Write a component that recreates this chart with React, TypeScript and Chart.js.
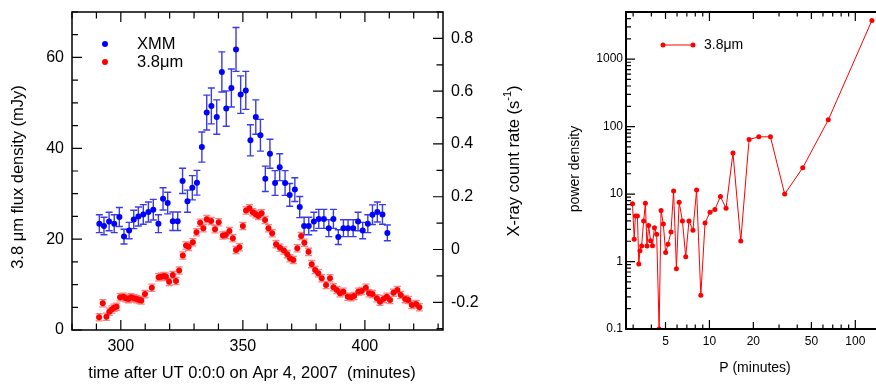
import React, { useEffect, useRef } from "react";
import { Chart, registerables } from "chart.js";
Chart.register(...registerables);

const FONT = "'Liberation Sans', Arial, Helvetica, sans-serif";

// ---- Left panel: light curves ----
const xmmTime = [291.2, 293.1, 295.2, 297.3, 299.4, 301.3, 303.4, 305.3, 307.2, 309.2, 311.3, 313.3, 315.4, 317.3, 319.2, 321.3, 323.3, 325.3, 327.3, 329.3, 331.2, 333.2, 335.2, 337.1, 339.3, 341.4, 343.2, 345.3, 347.2, 349.1, 351.2, 353.1, 355.3, 357.2, 359.2, 361.1, 363.2, 365.1, 367.3, 369.2, 371.3, 373.3, 375.1, 377.0, 379.1, 381.1, 383.2, 385.2, 387.1, 389.1, 391.2, 393.1, 395.2, 397.2, 399.1, 401.2, 403.1, 405.1, 407.2, 409.2];
const xmmRate = [0.098, 0.089, 0.106, 0.098, 0.123, 0.049, 0.072, 0.114, 0.125, 0.133, 0.142, 0.151, 0.098, 0.192, 0.176, 0.107, 0.107, 0.26, 0.183, 0.234, 0.253, 0.388, 0.519, 0.544, 0.502, 0.673, 0.534, 0.612, 0.758, 0.587, 0.603, 0.414, 0.502, 0.433, 0.268, 0.363, 0.252, 0.312, 0.252, 0.207, 0.227, 0.161, 0.089, 0.089, 0.106, 0.116, 0.116, 0.081, 0.116, 0.047, 0.081, 0.081, 0.081, 0.106, 0.072, 0.098, 0.132, 0.142, 0.133, 0.063];
const xmmErr = [0.034, 0.033, 0.035, 0.034, 0.036, 0.028, 0.031, 0.035, 0.036, 0.037, 0.038, 0.039, 0.034, 0.042, 0.041, 0.035, 0.035, 0.048, 0.042, 0.046, 0.047, 0.057, 0.066, 0.068, 0.065, 0.076, 0.067, 0.072, 0.083, 0.071, 0.072, 0.059, 0.065, 0.06, 0.048, 0.055, 0.047, 0.051, 0.047, 0.043, 0.045, 0.04, 0.033, 0.033, 0.035, 0.036, 0.036, 0.032, 0.036, 0.028, 0.032, 0.032, 0.032, 0.035, 0.031, 0.034, 0.037, 0.038, 0.037, 0.03];

const irTime = [291.1, 292.6, 294.1, 295.3, 296.3, 297.2, 298.3, 299.7, 301.0, 302.1, 303.1, 304.2, 305.4, 306.5, 307.6, 308.4, 309.9, 312.7, 315.5, 316.5, 317.7, 318.5, 319.8, 321.3, 322.6, 323.9, 325.4, 326.7, 327.8, 329.5, 331.0, 332.5, 333.8, 335.2, 337.0, 338.6, 340.1, 341.8, 343.0, 344.5, 345.9, 347.2, 348.6, 350.0, 351.3, 352.7, 354.1, 355.3, 356.4, 357.7, 359.1, 360.5, 362.0, 363.6, 365.2, 366.8, 368.2, 369.3, 370.7, 372.3, 373.9, 375.2, 376.9, 378.2, 379.6, 380.9, 382.3, 384.1, 385.7, 387.1, 388.5, 389.8, 391.2, 393.0, 394.3, 395.6, 397.3, 398.7, 400.4, 401.7, 403.1, 404.9, 406.2, 407.6, 409.0, 410.3, 411.7, 413.3, 414.7, 416.5, 417.8, 419.2, 421.0, 422.3];
const irFlux = [2.8, 5.9, 2.9, 4.0, 4.5, 4.9, 5.1, 7.2, 7.3, 7.0, 6.8, 7.2, 7.0, 6.8, 6.6, 6.5, 7.9, 9.3, 11.6, 11.7, 11.9, 11.7, 10.6, 12.1, 10.8, 13.1, 16.4, 18.6, 18.3, 19.3, 21.5, 23.6, 22.4, 24.4, 24.0, 22.2, 23.7, 20.8, 20.9, 21.8, 20.2, 17.6, 18.2, 22.9, 26.3, 26.8, 25.9, 25.5, 25.1, 25.7, 24.2, 22.4, 21.3, 18.9, 18.1, 17.5, 16.7, 15.8, 15.4, 18.0, 20.7, 19.2, 17.2, 14.5, 13.2, 12.5, 11.4, 9.9, 11.4, 9.4, 8.8, 8.1, 8.4, 7.3, 7.2, 7.5, 8.4, 8.6, 9.3, 8.1, 7.9, 7.0, 6.2, 6.8, 7.3, 6.6, 8.2, 8.8, 7.7, 6.8, 6.6, 5.5, 5.7, 5.0];
const irErr = 0.8;

const fluxTicks = [0, 20, 40, 60];
const rateTicks = [-0.2, 0, 0.2, 0.4, 0.6, 0.8];
const timeTicks = [300, 350, 400];

// ---- Right panel: power spectrum ----
const period = [2.97, 3.05, 3.11, 3.21, 3.28, 3.34, 3.43, 3.54, 3.64, 3.73, 3.83, 3.95, 4.07, 4.2, 4.35, 4.52, 4.66, 4.83, 5.01, 5.2, 5.45, 5.68, 5.94, 6.2, 6.53, 6.88, 7.24, 7.71, 8.17, 8.73, 9.33, 10.1, 10.9, 11.9, 13.0, 14.5, 16.4, 18.7, 21.8, 26.2, 32.8, 43.6, 65.3, 130];
const power = [7.16, 2.14, 4.75, 4.75, 0.92, 1.45, 1.7, 4.0, 7.33, 1.7, 3.41, 2.04, 1.72, 3.18, 2.54, 0.1, 5.69, 3.61, 1.36, 1.81, 2.75, 11.1, 0.785, 7.58, 4.0, 1.18, 4.0, 2.91, 11.5, 0.316, 3.74, 5.38, 5.89, 9.18, 6.18, 40.8, 2.02, 64.4, 70.6, 70.6, 10, 24.5, 126, 3750];
const periodTicks = [5, 10, 20, 50, 100];
const powerTicks = [0.1, 1, 10, 100, 1000];

const BLUE = "#0000ff";
const RED = "#ff0000";

function drawErr(ctx: any, xs: any, ys: any, t: number[], v: number[], e: (i: number) => number, color: string, cap: number, lw: number) {
  ctx.strokeStyle = color;
  ctx.lineWidth = lw;
  ctx.beginPath();
  for (let i = 0; i < t.length; i++) {
    const x = xs.getPixelForValue(t[i]);
    const y1 = ys.getPixelForValue(v[i] + e(i));
    const y2 = ys.getPixelForValue(v[i] - e(i));
    ctx.moveTo(x, y1); ctx.lineTo(x, y2);
    ctx.moveTo(x - cap, y1); ctx.lineTo(x + cap, y1);
    ctx.moveTo(x - cap, y2); ctx.lineTo(x + cap, y2);
  }
  ctx.stroke();
}

const leftDeco = {
  id: "leftDeco",
  beforeDatasetsDraw(chart: any) {
    const { ctx, chartArea: a, scales } = chart;
    ctx.save();
    ctx.beginPath();
    ctx.rect(a.left, a.top, a.right - a.left, a.bottom - a.top);
    ctx.clip();
    drawErr(ctx, scales.x, scales.y, irTime, irFlux, () => irErr, "rgba(255,40,40,0.6)", 3.5, 1.3);
    drawErr(ctx, scales.x, scales.y1, xmmTime, xmmRate, (i) => xmmErr[i], "rgba(25,25,225,0.85)", 3.5, 1.4);
    ctx.restore();
  },
  afterDraw(chart: any) {
    const { ctx, chartArea: a, scales } = chart;
    const xs = scales.x, yl = scales.y, yr = scales.y1;
    ctx.save();
    ctx.strokeStyle = "#000";
    ctx.lineWidth = 1.5;
    ctx.strokeRect(a.left, a.top, a.right - a.left, a.bottom - a.top);
    ctx.lineWidth = 1.2;
    ctx.beginPath();
    for (let v = 0; v <= 70; v += 5) {
      const y = yl.getPixelForValue(v);
      const len = v % 20 === 0 ? 10 : 6;
      ctx.moveTo(a.left, y); ctx.lineTo(a.left + len, y);
    }
    for (let i = -3; i <= 9; i++) {
      const y = yr.getPixelForValue(i / 10);
      const len = i % 2 === 0 ? 10 : 6.5;
      ctx.moveTo(a.right, y); ctx.lineTo(a.right - len, y);
    }
    for (let v = 280; v <= 432; v += 10) {
      const x = xs.getPixelForValue(v);
      const len = v % 50 === 0 ? 10 : 6.5;
      ctx.moveTo(x, a.bottom); ctx.lineTo(x, a.bottom - len);
      ctx.moveTo(x, a.top); ctx.lineTo(x, a.top + len);
    }
    ctx.stroke();

    ctx.fillStyle = "#000";
    ctx.font = `16.5px ${FONT}`;
    ctx.textAlign = "center";
    ctx.textBaseline = "middle";
    ctx.fillText("time after UT 0:0:0 on Apr 4, 2007  (minutes)", 252, 373);

    ctx.save();
    ctx.translate(18, 177);
    ctx.rotate(-Math.PI / 2);
    ctx.fillText("3.8 \u03bcm flux density (mJy)", 0, 0);
    ctx.restore();

    // right title with superscript
    ctx.save();
    ctx.translate(514, 161);
    ctx.rotate(-Math.PI / 2);
    const main = "X-ray count rate (s";
    const sup = "-1";
    const close = ")";
    ctx.font = `16.5px ${FONT}`;
    const w1 = ctx.measureText(main).width;
    const w3 = ctx.measureText(close).width;
    ctx.font = `11px ${FONT}`;
    const w2 = ctx.measureText(sup).width;
    const total = w1 + w2 + w3;
    const x0 = -total / 2;
    ctx.textAlign = "left";
    ctx.font = `16.5px ${FONT}`;
    ctx.fillText(main, x0, 0);
    ctx.font = `11px ${FONT}`;
    ctx.fillText(sup, x0 + w1, -6);
    ctx.font = `16.5px ${FONT}`;
    ctx.fillText(close, x0 + w1 + w2, 0);
    ctx.restore();

    // legend
    ctx.fillStyle = BLUE;
    ctx.beginPath(); ctx.arc(105, 44, 3, 0, Math.PI * 2); ctx.fill();
    ctx.fillStyle = RED;
    ctx.beginPath(); ctx.arc(105, 62, 3, 0, Math.PI * 2); ctx.fill();
    ctx.fillStyle = "#000";
    ctx.textAlign = "left";
    ctx.font = `16.5px ${FONT}`;
    ctx.fillText("XMM", 137, 44);
    ctx.fillText("3.8\u03bcm", 137, 62);
    ctx.restore();
  },
};

const rightDeco = {
  id: "rightDeco",
  afterDraw(chart: any) {
    const { ctx, chartArea: a, scales } = chart;
    const xs = scales.x, ys = scales.y;
    ctx.save();
    ctx.strokeStyle = "#000";
    ctx.lineWidth = 2;
    ctx.strokeRect(a.left, a.top, a.right - a.left + 10, a.bottom - a.top);
    ctx.lineWidth = 1.2;
    ctx.beginPath();
    for (let d = -1; d <= 3; d++) {
      for (let m = 1; m <= 9; m++) {
        const v = m * Math.pow(10, d);
        if (v > 5000) continue;
        const y = ys.getPixelForValue(v);
        const len = m === 1 ? 9 : 5;
        ctx.moveTo(a.left, y); ctx.lineTo(a.left + len, y);
      }
    }
    for (let d = 0; d <= 2; d++) {
      for (let m = 1; m <= 9; m++) {
        const v = m * Math.pow(10, d);
        if (v < 2.7 || v > 150) continue;
        const x = xs.getPixelForValue(v);
        const len = m === 1 ? 9 : (m === 2 || m === 5) ? 7 : 4.5;
        ctx.moveTo(x, a.bottom); ctx.lineTo(x, a.bottom - len);
        ctx.moveTo(x, a.top); ctx.lineTo(x, a.top + len);
      }
    }
    ctx.stroke();

    ctx.fillStyle = "#000";
    ctx.font = `14px ${FONT}`;
    ctx.textAlign = "center";
    ctx.textBaseline = "middle";
    ctx.fillText("P (minutes)", 215, 368);
    ctx.save();
    ctx.translate(35, 169);
    ctx.rotate(-Math.PI / 2);
    ctx.fillText("power density", 0, 0);
    ctx.restore();

    // legend
    ctx.strokeStyle = RED;
    ctx.fillStyle = RED;
    ctx.lineWidth = 1;
    ctx.beginPath(); ctx.moveTo(123, 45); ctx.lineTo(153, 45); ctx.stroke();
    ctx.beginPath(); ctx.arc(123, 45, 2.5, 0, Math.PI * 2); ctx.fill();
    ctx.beginPath(); ctx.arc(153, 45, 2.5, 0, Math.PI * 2); ctx.fill();
    ctx.fillStyle = "#000";
    ctx.textAlign = "left";
    ctx.fillText("3.8\u03bcm", 164, 45);
    ctx.restore();
  },
};

function setTicks(list: number[]) {
  return (scale: any) => { scale.ticks = list.map((v) => ({ value: v })); };
}

function fixSize(w: number | null, h: number | null) {
  return (s: any) => {
    if (w !== null) s.width = w;
    if (h !== null) s.height = h;
    s.paddingTop = 0;
    s.paddingBottom = 0;
    s.paddingLeft = 0;
    s.paddingRight = 0;
  };
}

export default function App() {
  const leftRef = useRef<HTMLCanvasElement>(null);
  const rightRef = useRef<HTMLCanvasElement>(null);

  useEffect(() => {
    const tickFont = { family: FONT, size: 16 };
    const left = new Chart(leftRef.current as HTMLCanvasElement, {
      type: "scatter",
      data: {
        datasets: [
          {
            label: "3.8\u03bcm",
            data: irTime.map((t, i) => ({ x: t, y: irFlux[i] })),
            yAxisID: "y",
            backgroundColor: RED,
            borderColor: RED,
            pointRadius: 3,
            pointBorderWidth: 0,
          },
          {
            label: "XMM",
            data: xmmTime.map((t, i) => ({ x: t, y: xmmRate[i] })),
            yAxisID: "y1",
            backgroundColor: BLUE,
            borderColor: BLUE,
            pointRadius: 3,
            pointBorderWidth: 0,
          },
        ],
      },
      options: {
        responsive: false,
        animation: false,
        layout: { padding: { top: 12, left: 0, right: 0, bottom: 0 } },
        plugins: { legend: { display: false }, tooltip: { enabled: false } },
        scales: {
          x: {
            type: "linear",
            min: 280,
            max: 432,
            grid: { display: false, drawTicks: false },
            border: { display: false },
            afterBuildTicks: setTicks(timeTicks),
            afterFit: fixSize(null, 59),
            ticks: { font: tickFont, color: "#000", padding: 7, maxRotation: 0, callback: (v: any) => String(v) },
          },
          y: {
            type: "linear",
            position: "left",
            min: 0,
            max: 70,
            grid: { display: false, drawTicks: false },
            border: { display: false },
            afterBuildTicks: setTicks(fluxTicks),
            afterFit: fixSize(72, null),
            ticks: { font: tickFont, color: "#000", padding: 8, callback: (v: any) => String(v) },
          },
          y1: {
            type: "linear",
            position: "right",
            min: -0.305,
            max: 0.9,
            grid: { display: false, drawTicks: false },
            border: { display: false },
            afterBuildTicks: setTicks(rateTicks),
            afterFit: fixSize(97, null),
            ticks: { font: tickFont, color: "#000", padding: 8, callback: (v: any) => String(v) },
          },
        },
      },
      plugins: [leftDeco],
    } as any);

    const smallFont = { family: FONT, size: 12 };
    const right = new Chart(rightRef.current as HTMLCanvasElement, {
      type: "scatter",
      data: {
        datasets: [
          {
            label: "3.8\u03bcm",
            data: period.map((p, i) => ({ x: p, y: power[i] })),
            showLine: true,
            borderColor: RED,
            backgroundColor: RED,
            borderWidth: 1,
            pointRadius: 2.5,
            pointBorderWidth: 0,
          },
        ],
      },
      options: {
        responsive: false,
        animation: false,
        layout: { padding: { top: 12, left: 0, right: 0, bottom: 0 } },
        plugins: { legend: { display: false }, tooltip: { enabled: false } },
        scales: {
          x: {
            type: "logarithmic",
            min: 2.68,
            max: 150,
            grid: { display: false, drawTicks: false },
            border: { display: false },
            afterBuildTicks: setTicks(periodTicks),
            afterFit: fixSize(null, 60),
            ticks: { font: smallFont, color: "#000", padding: 5, maxRotation: 0, autoSkip: false, callback: (v: any) => String(v) },
          },
          y: {
            type: "logarithmic",
            min: 0.1,
            max: 5000,
            grid: { display: false, drawTicks: false },
            border: { display: false },
            afterBuildTicks: setTicks(powerTicks),
            afterFit: fixSize(86, null),
            ticks: { font: smallFont, color: "#000", padding: 3, autoSkip: false, callback: (v: any) => String(v) },
          },
        },
      },
      plugins: [rightDeco],
    } as any);

    return () => { left.destroy(); right.destroy(); };
  }, []);

  return (
    <div style={{ position: "absolute", left: 0, top: 0, width: 876, height: 389, overflow: "hidden", background: "#fff" }}>
      <canvas ref={leftRef} width={540} height={389} style={{ position: "absolute", left: 0, top: 0, width: 540, height: 389 }} />
      <canvas ref={rightRef} width={345} height={389} style={{ position: "absolute", left: 540, top: 0, width: 345, height: 389 }} />
    </div>
  );
}
